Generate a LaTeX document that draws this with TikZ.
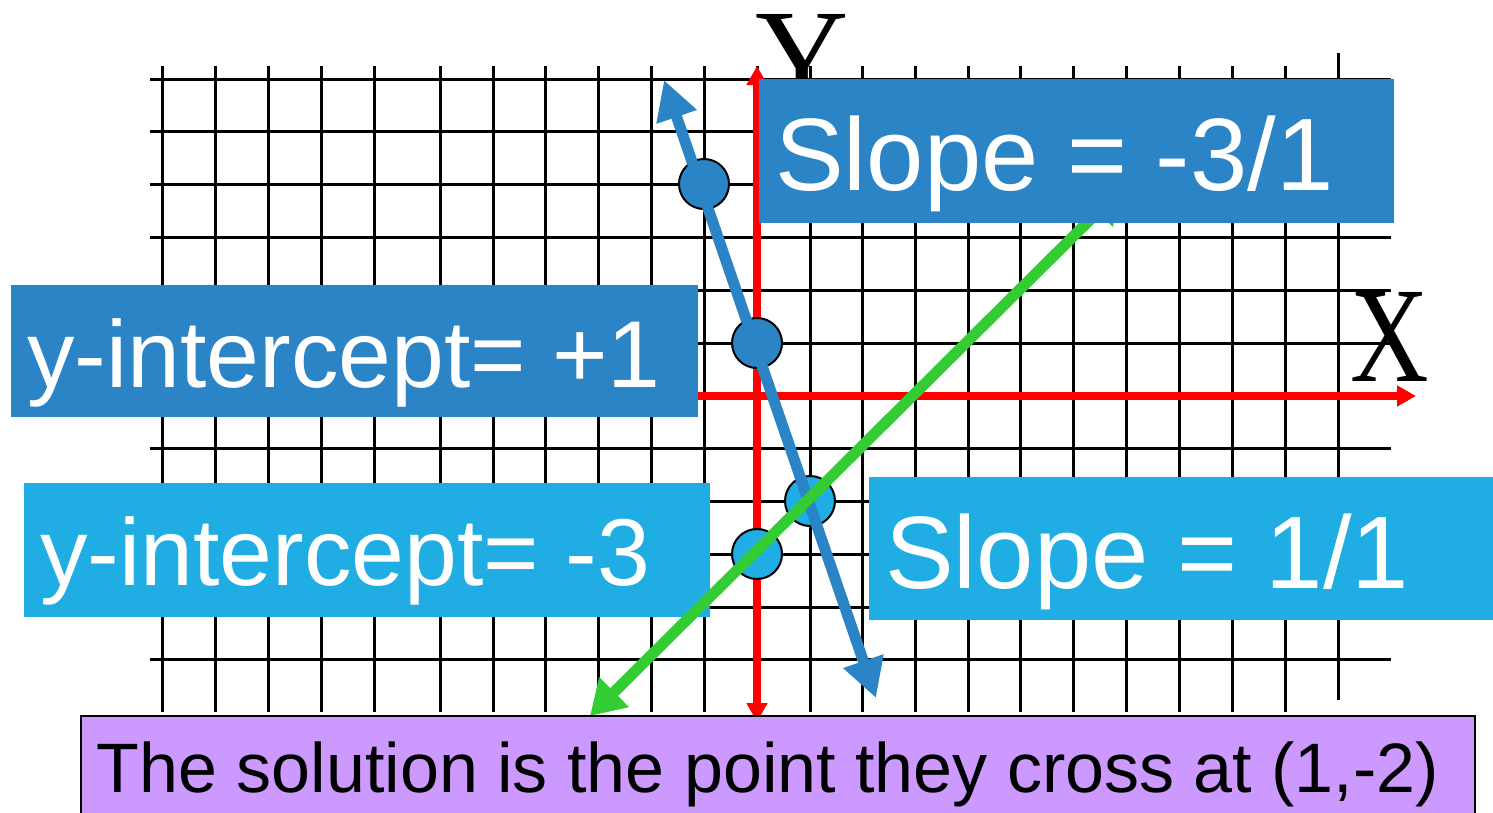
\documentclass[tikz,border=0pt]{standalone}
\usepackage{fontspec}
\setmainfont{Liberation Sans}
\newfontfamily\axisfont{Liberation Serif}
\usetikzlibrary{arrows.meta}

\definecolor{deepblue}{HTML}{2A84C6}
\definecolor{skyblue}{HTML}{20ADE3}
\definecolor{linegreen}{HTML}{33CC33}
\definecolor{lilac}{HTML}{CC99FF}

\tikzset{
  grid line/.style={black, line width=3pt},
  axis line/.style={
    red, line width=8pt,
    {Triangle[length=19pt,width=20pt]}-{Triangle[length=19pt,width=20pt]}
  },
  axis label/.style={anchor=base west, inner sep=0pt, font=\axisfont\fontsize{136pt}{140pt}\selectfont},
  steep line/.style={
    deepblue, line width=11pt,
    {Triangle[length=39pt,width=40pt]}-{Triangle[length=39pt,width=40pt]}
  },
  flat line/.style={
    linegreen, line width=11pt,
    {Triangle[length=34pt,width=40pt]}-{Triangle[length=34pt,width=40pt]}
  },
  dark dot/.style={
    circle, draw=black, line width=2pt, fill=deepblue, inner sep=0pt, minimum size=50pt
  },
  light dot/.style={
    circle, draw=black, line width=2pt, fill=skyblue, inner sep=0pt, minimum size=50pt
  },
  label box/.style={
    anchor=north west, inner xsep=16pt, inner ysep=0pt, align=flush left, text=white
  },
  dark box/.style={label box, fill=deepblue},
  light box/.style={label box, fill=skyblue},
  note box/.style={
    anchor=north west, inner xsep=16pt, inner ysep=0pt, align=flush left,
    fill=lilac, draw=black, line width=1.5pt,
    font=\fontsize{70pt}{74pt}\selectfont
  },
  slope text/.style={font=\fontsize{103pt}{108pt}\selectfont},
  intercept text/.style={font=\fontsize{95pt}{100pt}\selectfont}
}

\begin{document}
\begin{tikzpicture}[x=1pt, y=-1pt]

\useasboundingbox (0,0) rectangle (1493,812);
\clip (0,0) rectangle (1493,812);

% grid
\foreach \gx in {162,215,268,321,374,440,493,545,598,651,704,757,810,862,915,968,1020,1073,1126,1179,1232,1285}
  \draw[grid line] (\gx,66) -- (\gx,712);
\draw[grid line] (1338,53) -- (1338,700);
\foreach \gy in {79,131,184,237,290,343,396,448,501,554,607,659}
  \draw[grid line] (150,\gy) -- (1391,\gy);

% axes
\coordinate (ytop) at (757,66);
\coordinate (ybot) at (757,722);
\coordinate (xleft) at (150,396);
\coordinate (xright) at (1416,396);
\draw[axis line] (ybot) -- (ytop);
\draw[axis line] (xleft) -- (xright);
\node[axis label] (ylab) at (755,103) {\scalebox{0.95}[1]{Y}};
\node[axis label] (xlab) at (1350,381) {\scalebox{0.8}[1]{X}};

% light boxes
\node[light box, intercept text, text width=654pt, text height=102pt, text depth=32pt]
  (interB) at (24,483) {y-intercept= -3};
\node[light box, slope text, text width=600pt, text height=111pt, text depth=32pt]
  (slopeB) at (869,477) {Slope = 1/1};

% points
\node[dark dot]  (p1) at (704,184) {};
\node[dark dot]  (p2) at (757,343) {};
\node[light dot] (p3) at (810,501) {};
\node[light dot] (p4) at (757,554) {};

% the two lines
\coordinate (bluetop) at (664,80);
\coordinate (bluebot) at (876,698);
\coordinate (greentop) at (1122,188);
\coordinate (greenbot) at (590,716);
\draw[steep line] (bluebot) -- (bluetop);
\draw[flat line] (greenbot) -- (greentop);

% dark boxes
\node[dark box, slope text, text width=603pt, text height=111pt, text depth=33pt]
  (slopeA) at (759,79) {Slope = -3/1};
\node[dark box, intercept text, text width=655pt, text height=102pt, text depth=30pt]
  (interA) at (11,285) {y-intercept= +1};

% answer
\node[note box, text width=1362pt, text height=77pt, text depth=40pt]
  (solution) at (80,715) {The solution is the point they cross at (1,-2)};

\end{tikzpicture}
\end{document}
